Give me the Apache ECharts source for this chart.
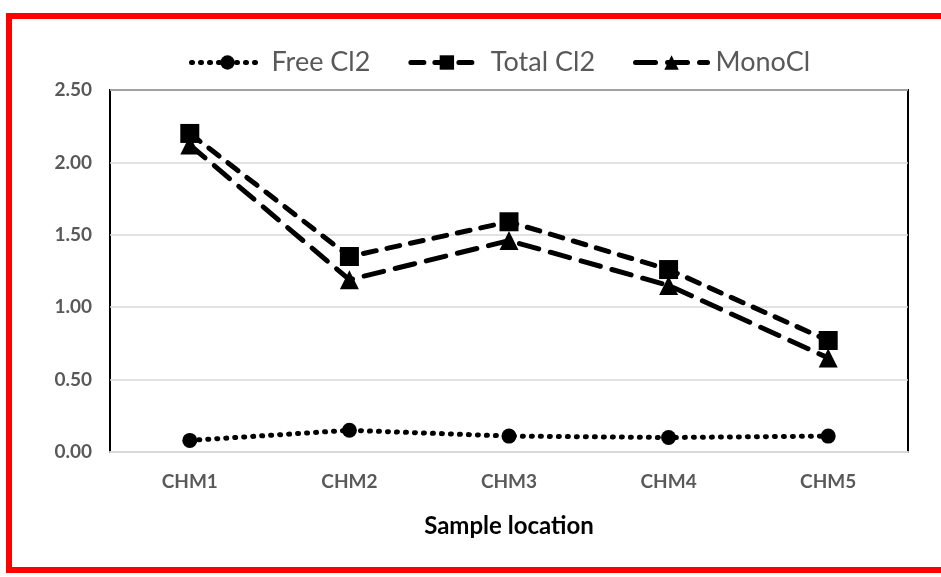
<!DOCTYPE html>
<html><head><meta charset="utf-8">
<script src="https://cdn.jsdelivr.net/npm/echarts@6/dist/echarts.min.js"></script>
<style>html,body{margin:0;padding:0;background:#fff}#c{width:941px;height:577px}</style>
</head><body><div id="c"></div>
<script>
const categories = ['CHM1','CHM2','CHM3','CHM4','CHM5'];
const freeCl2 = [0.08, 0.15, 0.11, 0.10, 0.11];
const totalCl2 = [2.20, 1.35, 1.59, 1.26, 0.77];
const monoCl = [2.12, 1.19, 1.46, 1.15, 0.65];
const yTicks = {min: 0, max: 2.5, interval: 0.5};

const chart = echarts.init(document.getElementById('c'));
chart.setOption({
  animation: false,
  backgroundColor: '#fff',
  graphic: [{
    type: 'rect', z: 100,
    shape: {x: 9, y: 16, width: 960, height: 554},
    style: {fill: 'none', stroke: '#ff0000', lineWidth: 6}
  }],
  legend: {
    top: 44, left: 184,
    itemWidth: 72, itemHeight: 18, itemGap: 38,
    lineStyle: {width: 5},
    textStyle: {fontFamily: 'Lato', fontSize: 27, color: '#595959', padding: [0, 0, 0, 3]},
    data: ['Free Cl2','Total Cl2','MonoCl']
  },
  grid: {left: 110, right: 33, top: 90, bottom: 125, show: true, borderColor: '#000', borderWidth: 2},
  xAxis: {
    type: 'category', data: categories, boundaryGap: true,
    axisLine: {lineStyle: {color: '#d9d9d9', width: 2}},
    axisTick: {show: false},
    axisLabel: {fontFamily: 'Lato', fontWeight: 'bold', fontSize: 19, color: '#595959', margin: 20},
    name: 'Sample location', nameLocation: 'middle', nameGap: 62,
    nameTextStyle: {fontFamily: 'Lato', fontWeight: 'bold', fontSize: 24, color: '#000'}
  },
  yAxis: {
    type: 'value', min: yTicks.min, max: yTicks.max, interval: yTicks.interval,
    axisLine: {show: false}, axisTick: {show: false},
    splitLine: {lineStyle: {color: '#d9d9d9', width: 1.5}},
    axisLabel: {fontFamily: 'Lato', fontWeight: 'bold', fontSize: 19, color: '#595959', margin: 18,
      formatter: v => v.toFixed(2)}
  },
  series: [
    {name: 'Free Cl2', type: 'line', data: freeCl2, symbol: 'circle', symbolSize: 15,
     itemStyle: {color: '#000'}, lineStyle: {color: '#000', width: 5, type: [1, 8], cap: 'round'}},
    {name: 'Total Cl2', type: 'line', data: totalCl2, symbol: 'rect', symbolSize: 19,
     itemStyle: {color: '#000'}, lineStyle: {color: '#000', width: 5, type: [13, 11], cap: 'round'}},
    {name: 'MonoCl', type: 'line', data: monoCl, symbol: 'triangle', symbolSize: 19,
     itemStyle: {color: '#000'}, lineStyle: {color: '#000', width: 5, type: [20, 12], cap: 'round'}}
  ]
});
</script></body></html>
